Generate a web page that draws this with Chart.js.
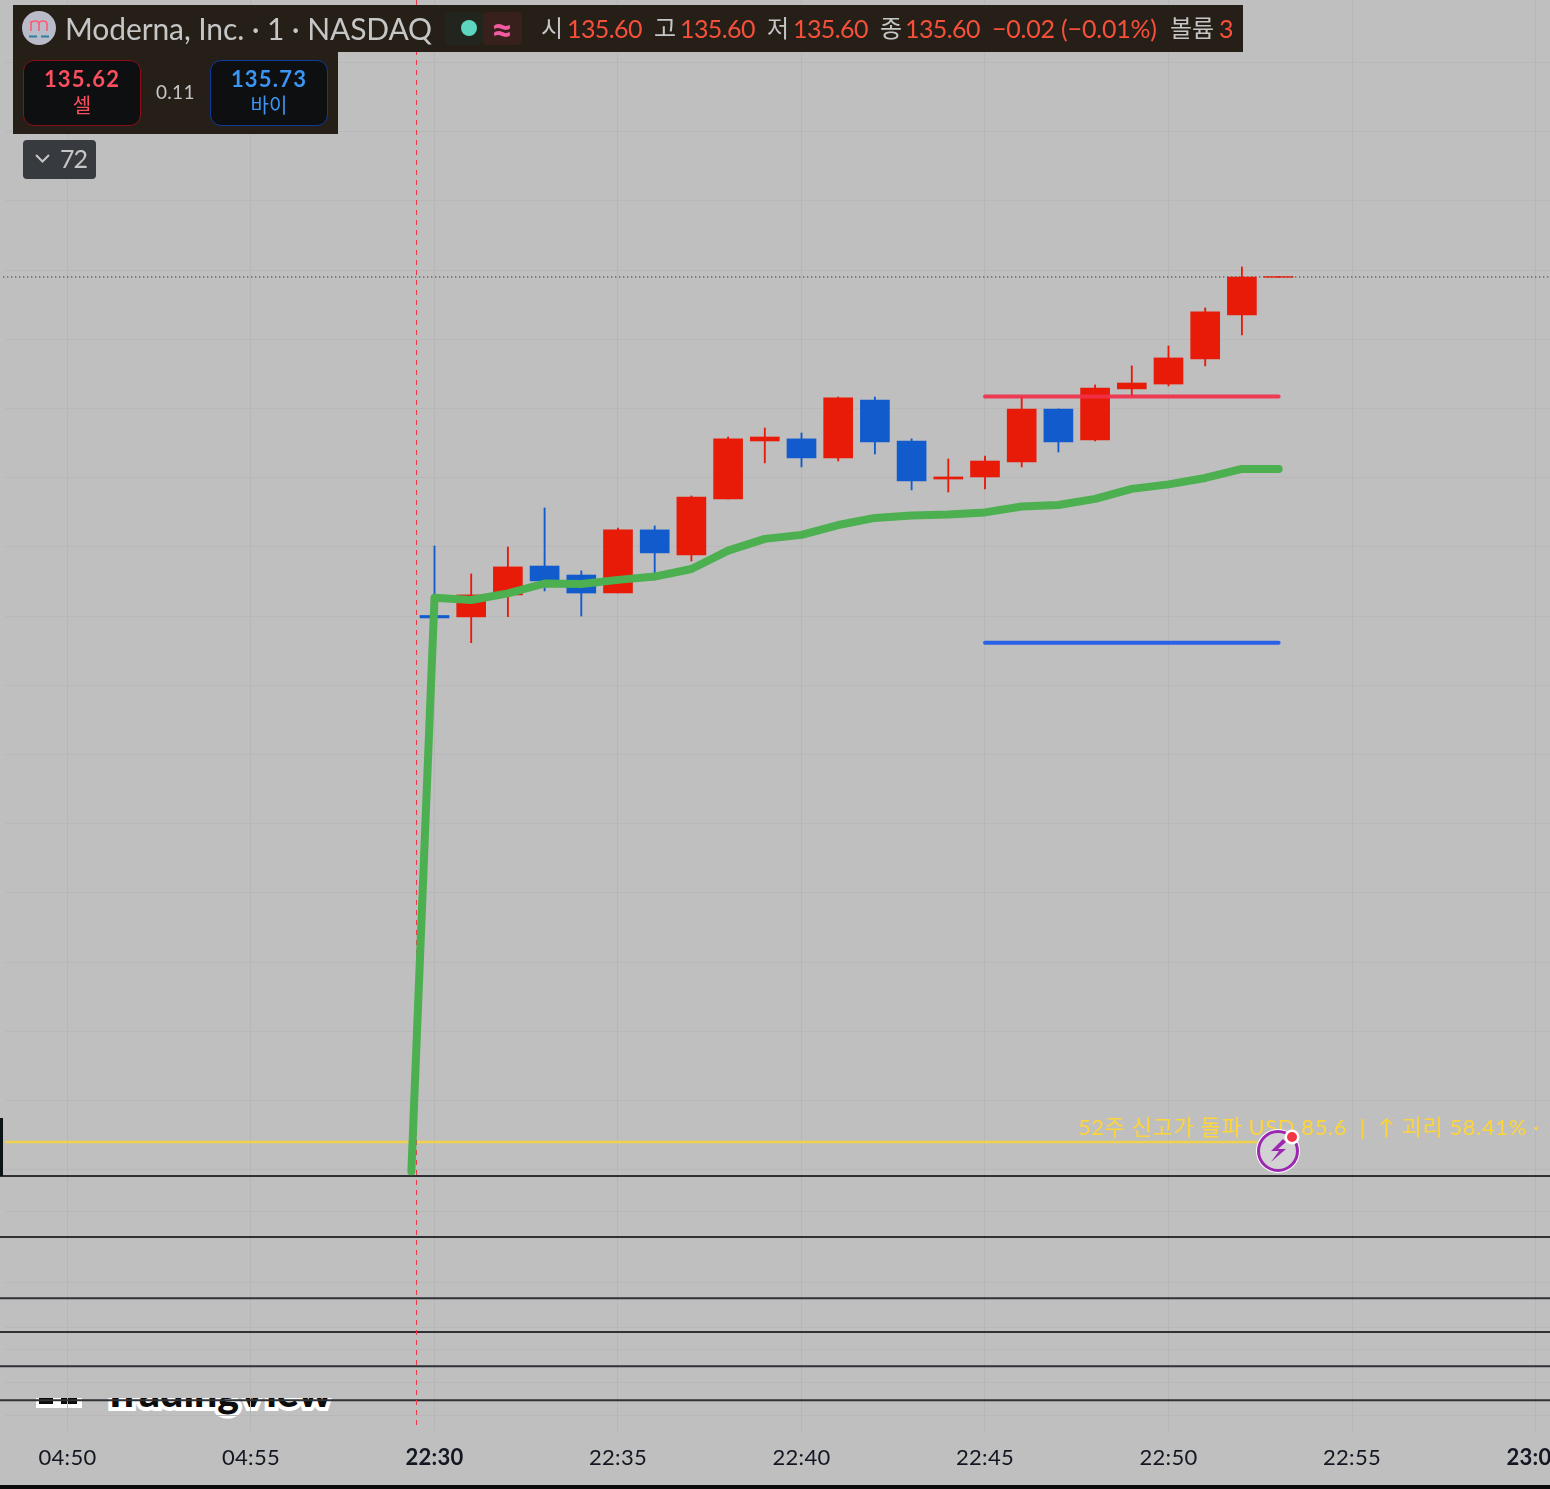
<!DOCTYPE html>
<html lang="ko">
<head>
<meta charset="utf-8">
<title>Moderna, Inc. 1분봉</title>
<style>
html,body{margin:0;padding:0;width:1550px;height:1489px;overflow:hidden;background:#bfbfbf;font-family:Lato,"Noto Sans CJK KR",sans-serif}
#c{position:absolute;left:0;top:0;z-index:1}
.a{position:absolute;white-space:nowrap;line-height:1;z-index:3}
.box{position:absolute;z-index:2}
.g{color:#c6c6c6}.r{color:#f7503a}
.p{font-size:25px;top:16px;letter-spacing:-.6px}
.wm{position:absolute;left:0;top:1398px;width:600px;height:30px;overflow:hidden;z-index:0}
.wm span{position:absolute;top:-31px;left:103px;font:900 41px Lato,sans-serif;color:#0c0c0c;-webkit-text-stroke:8px #fff;paint-order:stroke fill;white-space:nowrap}
</style>
</head>
<body>
<div class="wm"><span>TradingView</span>
<svg style="position:absolute;left:36px;top:0" width="46" height="12"><rect width="46" height="10" y="0" fill="#fff"/><rect x="3" y="0" width="14" height="6" fill="#0c0c0c"/><rect x="25" y="0" width="16" height="6" fill="#0c0c0c"/></svg></div>
<canvas id="c" width="1550" height="1485"></canvas>

<div class="box" style="left:13px;top:5px;width:1230px;height:47px;background:#251f18"></div>
<div class="box" style="left:13px;top:52px;width:325px;height:82px;background:#251f18"></div>
<div class="box" style="left:23px;top:60px;width:116px;height:64px;background:#0e0f11;border:1.5px solid #8a0f1a;border-radius:11px"></div>
<div class="box" style="left:210px;top:60px;width:116px;height:64px;background:#0e0f11;border:1.5px solid #0f3a99;border-radius:11px"></div>
<div class="box" style="left:23px;top:140px;width:73px;height:39px;background:#373a3f;border-radius:4px"></div>
<div class="box" style="left:483px;top:12px;width:39px;height:33px;background:#38201c;border-radius:4px"></div>
<div class="box" style="left:445px;top:12px;width:38px;height:33px;background:#22251d;border-radius:4px"></div>
<div class="box" style="left:461px;top:20px;width:16px;height:16px;border-radius:50%;background:#5ed5bf"></div>
<svg class="box" style="left:22px;top:11px;z-index:3" width="34" height="34" viewBox="0 0 34 34"><circle cx="17" cy="17" r="17" fill="#b9bcc8"/><path d="M9 20V10M9 13q0-3 4-3t4 3v7M17 13q0-3 4-3t4 3v7" stroke="#ff5a78" stroke-width="1.600" fill="none"/><path d="M7 25.500h8M19 25.500h8" stroke="#2f7f9f" stroke-width="2"/></svg>

<span class="a g" style="left:65px;top:13px;font-size:30px;letter-spacing:-.1px">Moderna, Inc. · 1 · NASDAQ</span>
<span class="a" style="left:491px;top:10px;font-size:38px;font-weight:900;color:#f15aa0">≈</span>
<span class="a g" style="left:541px;top:16px;font-size:24px">시</span><span class="a r p" style="left:567px">135.60</span>
<span class="a g" style="left:654px;top:16px;font-size:24px">고</span><span class="a r p" style="left:680px">135.60</span>
<span class="a g" style="left:767px;top:16px;font-size:24px">저</span><span class="a r p" style="left:793px">135.60</span>
<span class="a g" style="left:880px;top:16px;font-size:24px">종</span><span class="a r p" style="left:905px">135.60</span>
<span class="a r" style="left:992px;top:16px;font-size:25px;letter-spacing:-.2px">−0.02 (−0.01%)</span>
<span class="a g" style="left:1170px;top:16px;font-size:24px">볼륨</span><span class="a r" style="left:1219px;top:16px;font-size:25px">3</span>

<span class="a" style="left:23px;width:118px;text-align:center;top:68px;font-size:22px;font-weight:700;letter-spacing:1.200px;color:#fb4f60">135.62</span>
<span class="a" style="left:23px;width:118px;text-align:center;top:95px;font-size:20px;color:#fb4f60">셀</span>
<span class="a g" style="left:156px;top:82px;font-size:19px;letter-spacing:.3px">0.11</span>
<span class="a" style="left:210px;width:118px;text-align:center;top:68px;font-size:22px;font-weight:700;letter-spacing:1.200px;color:#3a95f5">135.73</span>
<span class="a" style="left:210px;width:118px;text-align:center;top:95px;font-size:20px;color:#3a95f5">바이</span>
<svg class="box" style="left:34px;top:152px;z-index:3" width="18" height="12"><path d="M2 3l6.500 6.500L15 3" stroke="#c6c6c6" stroke-width="2" fill="none"/></svg>
<span class="a g" style="left:60px;top:146px;font-size:25px;letter-spacing:-.9px">72</span>

<span class="a" style="left:1078px;top:1116px;font-size:22px;letter-spacing:.6px;color:#fdd43a">52주 신고가 돌파 USD 85.6&nbsp; |&nbsp; ↑ 괴리 58.41% ·</span>
<svg class="box" style="left:1254px;top:1126px;z-index:4" width="50" height="50" viewBox="0 0 50 50"><circle cx="24" cy="25" r="22" fill="#fff"/><circle cx="24" cy="25" r="19.500" fill="#d2d2d2" stroke="#9c27b0" stroke-width="3"/><path d="M29 13L17 25h8l-8 11 15-13h-8l8-7z" fill="#9c27b0"/><circle cx="38" cy="11" r="7.500" fill="#fff"/><circle cx="38" cy="11" r="5" fill="#f23645"/></svg>

<div class="box" style="left:0;top:1118px;width:3px;height:58px;background:#0a1414"></div>
<div class="box" style="left:0;top:1485px;width:1550px;height:4px;background:#0b0b0b"></div>

<script src="https://cdn.jsdelivr.net/npm/chart.js@4/dist/chart.umd.min.js"></script>
<script>
// Minutes from 22:30 (the axis jumps a session gap, so 04:50 / 04:55 lie left of 22:30)
const minutes = [0,1,2,3,4,5,6,7,8,9,10,11,12,13,14,15,16,17,18,19,20,21,22,23];
const opens  = [116.03,115.95,117.22,118.89,118.37,117.33,120.98,119.53,122.77,126.12,126.24,125.14,128.49,126.12,123.92,124.04,124.91,127.97,126.18,129.13,129.41,130.86,133.40,135.58];
const closes = [115.89,117.22,118.84,118.03,117.33,120.98,119.65,122.88,126.24,126.35,125.14,128.61,126.06,123.81,124.04,124.96,127.97,126.06,129.18,129.47,130.92,133.58,135.60,135.62];
const highs  = [120.05,118.43,119.99,122.25,118.61,121.09,121.21,122.94,126.35,126.87,126.58,128.66,128.66,126.24,125.08,125.25,128.66,127.97,129.36,130.46,131.61,133.81,136.18,135.62];
const lows   = [115.89,114.46,115.96,117.45,116.00,117.33,118.09,119.18,122.77,124.85,124.62,124.96,125.37,123.29,123.17,123.35,124.62,125.48,126.12,128.72,129.30,130.46,132.25,135.58];
const maMinutes = [-0.63,0,1,2,3,4,5,6,7,8,9,10,11,12,13,14,15,16,17,18,19,20,21,22,23];
const maValues  = [83.9,117.05,116.93,117.31,117.88,117.85,118.09,118.28,118.72,119.78,120.46,120.69,121.26,121.67,121.81,121.87,121.99,122.33,122.42,122.77,123.35,123.61,123.98,124.50,124.50];
const resistance = 128.69, support = 114.46, levelFrom = 15, levelTo = 23;
const high52 = 85.6, high52From = -11.7, high52To = 22.44;
const lastPrice = 135.6;
const cursorMinute = -0.49;
const paneBorders = [83.63,80.1,76.57,74.61,72.64,70.67];
const gridPrices = [148,144,140,136,132,128,124,120,116,112,108,104,100,96,92,88,84,81.55,77.5,74.9,73.6,71.7,69.8];
const tickMinutes = [-10,-5,0,5,10,15,20,25,30];
const tickLabels = ['04:50','04:55','22:30','22:35','22:40','22:45','22:50','22:55','23:00'];
const boldTicks = ['22:30','23:00'];

const UP='#e81a08', DOWN='#115bcc', XMIN=-11.839, XMAX=30.395, YMIN=68.89, YMAX=151.61;
const colors = minutes.map((_,i)=> closes[i]>=opens[i] ? UP : DOWN);
const line = (data,color,width,extra={}) => ({type:'line',data,borderColor:color,borderWidth:width,pointRadius:0,tension:0,...extra});

const strip = {id:'strip',
  beforeDraw(ch){ch.ctx.letterSpacing='0.3px';},
  beforeDatasetsDraw(ch){const c=ch.ctx;c.save();c.fillStyle='#bfbfbf';c.fillRect(0,0,5,ch.chartArea.bottom);c.restore();}};

new Chart(document.getElementById('c'),{
  data:{datasets:[
    ...paneBorders.map(v=>line([{x:XMIN,y:v},{x:XMAX,y:v}],'#2f3134',2,{order:3})),
    line([{x:cursorMinute,y:YMAX},{x:cursorMinute,y:69.07}],'#f23645',1,{borderDash:[5,5],order:2}),
    line([{x:-11.75,y:lastPrice},{x:XMAX,y:lastPrice}],'#111',1,{borderDash:[1,3],order:9}),
    line([{x:high52From,y:high52},{x:high52To,y:high52}],'#f0d24e',2.4,{order:8}),
    {type:'bar',data:minutes.map((m,i)=>({x:m,y:[lows[i],highs[i]]})),backgroundColor:colors,barThickness:1.2,grouped:false,borderWidth:0,order:7},
    {type:'bar',data:minutes.map((m,i)=>({x:m,y:[opens[i],closes[i]]})),backgroundColor:colors,barThickness:29,grouped:false,borderWidth:0,order:6},
    line([{x:levelFrom,y:resistance},{x:levelTo,y:resistance}],'rgba(242,48,75,.92)',4,{borderCapStyle:'round',order:5}),
    line([{x:levelFrom,y:support},{x:levelTo,y:support}],'#2962e8',4,{borderCapStyle:'round',order:5}),
    line(maMinutes.map((m,i)=>({x:m,y:maValues[i]})),'#4caf50',8,{borderCapStyle:'round',borderJoinStyle:'round',order:1})
  ]},
  options:{
    responsive:false,animation:false,devicePixelRatio:1,
    layout:{padding:0,autoPadding:false},
    plugins:{legend:{display:false},tooltip:{enabled:false}},
    scales:{
      x:{type:'linear',offset:false,min:XMIN,max:XMAX,
        afterBuildTicks:s=>{s.ticks=tickMinutes.map(v=>({value:v}));},
        afterFit:s=>{s.height=54;s.paddingLeft=0;s.paddingRight=0;},
        border:{display:false},
        grid:{offset:false,color:'#b6b6b6',lineWidth:1,drawTicks:false},
        ticks:{autoSkip:false,maxRotation:0,minRotation:0,padding:14,color:'#131722',
          callback:(v)=>tickLabels[tickMinutes.indexOf(v)],
          font:c=>({family:'Lato,sans-serif',size:22,weight:boldTicks.includes(tickLabels[c.index])?'700':'400'})}
      },
      y:{type:'linear',min:YMIN,max:YMAX,
        afterBuildTicks:s=>{s.ticks=gridPrices.map(v=>({value:v}));},
        afterFit:s=>{s.width=0;},
        border:{display:false},
        grid:{color:'#b8b8b8',lineWidth:1,drawTicks:false},
        ticks:{display:false}
      }
    }
  },
  plugins:[strip]
});
</script>
</body>
</html>
